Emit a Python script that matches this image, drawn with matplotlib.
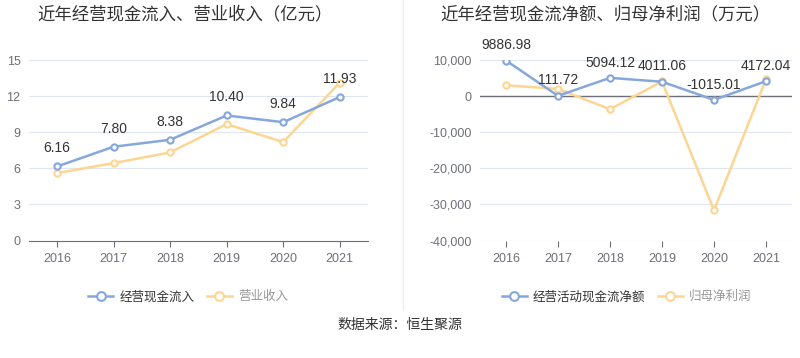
import matplotlib.pyplot as plt
from matplotlib.ticker import FuncFormatter

plt.rcParams['font.family'] = ['Liberation Sans', 'Noto Sans CJK SC', 'DejaVu Sans']

years = ['2016', '2017', '2018', '2019', '2020', '2021']
cash_in = [6.16, 7.80, 8.38, 10.40, 9.84, 11.93]
revenue = [5.61, 6.44, 7.33, 9.68, 8.19, 13.12]
net_cash = [9886.98, 111.72, 5094.12, 4011.06, -1015.01, 4172.04]
net_profit = [3050, 2030, -3600, 4100, -31600, 4700]

blue = '#86a7dc'
yellow = '#fdd593'
grid_c = '#e0e6f1'
tick_c = '#6e7079'

fig = plt.figure(figsize=(8, 3.58), dpi=100)
ax1 = fig.add_axes([0.036, 0.328, 0.424, 0.504])
ax2 = fig.add_axes([0.6, 0.328, 0.39, 0.504])


def style(ax):
    for s in ['top', 'right', 'left']:
        ax.spines[s].set_visible(False)
    ax.spines['bottom'].set_color(tick_c)
    ax.grid(axis='y', color=grid_c, linewidth=0.8)
    ax.set_axisbelow(True)
    ax.tick_params(axis='y', length=0, colors=tick_c, labelsize=9, pad=6)
    ax.tick_params(axis='x', length=4, color=tick_c, colors=tick_c, labelsize=9, pad=5)
    ax.set_xlim(-0.5, 5.5)


x = range(len(years))
mk = dict(marker='o', markersize=4.5, markerfacecolor='white', markeredgewidth=1.5, linewidth=1.8)

ax1.plot(x, revenue, color=yellow, label='营业收入', **mk)
ax1.plot(x, cash_in, color=blue, label='经营现金流入', **mk)
for i, v in enumerate(cash_in):
    ax1.annotate(f'{v:.2f}', (i, v), xytext=(0, 8), textcoords='offset points',
                 ha='center', va='bottom', fontsize=10, color='#333333')
style(ax1)
ax1.set_ylim(0, 15)
ax1.set_yticks([0, 3, 6, 9, 12, 15])
ax1.set_xticks(list(x))
ax1.set_xticklabels(years)

ax2.plot(x, net_profit, color=yellow, label='归母净利润', **mk)
ax2.plot(x, net_cash, color=blue, label='经营活动现金流净额', **mk)
for i, v in enumerate(net_cash):
    ax2.annotate(f'{v:.2f}', (i, v), xytext=(0, 6), textcoords='offset points',
                 ha='center', va='bottom', fontsize=10, color='#333333')
style(ax2)
ax2.axhline(0, color=tick_c, linewidth=1, zorder=1)
ax2.spines['bottom'].set_visible(False)
ax2.set_ylim(-40000, 10000)
ax2.set_yticks([-40000, -30000, -20000, -10000, 0, 10000])
ax2.yaxis.set_major_formatter(FuncFormatter(lambda v, p: f'{int(v):,}'))
ax2.set_xticks(list(x))
ax2.set_xticklabels(years)

fig.text(0.231, 0.961, '近年经营现金流入、营业收入（亿元）', ha='center', va='center',
         fontsize=12.5, color='#333333')
fig.text(0.757, 0.961, '近年经营现金流净额、归母净利润（万元）', ha='center', va='center',
         fontsize=12.5, color='#333333')

for ax, ax_x in [(ax1, 0.47), (ax2, 0.47)]:
    h, l = ax.get_legend_handles_labels()
    leg = ax.legend(h[::-1], l[::-1], loc='center', bbox_to_anchor=(ax_x, -0.313), ncol=2,
                    frameon=False, fontsize=9, handlelength=2, columnspacing=1.0,
                    handletextpad=0.5, markerscale=1.4)
    texts = leg.get_texts()
    texts[0].set_color('#333333')
    texts[1].set_color('#999999')

fig.add_artist(plt.Line2D([0.504, 0.504], [0.135, 1.0], color='#eeeeee', linewidth=1))
fig.text(0.5, 0.092, '数据来源：恒生聚源', ha='center', va='center', fontsize=10, color='#333333')

fig.savefig('out.png', dpi=100, facecolor='white')
